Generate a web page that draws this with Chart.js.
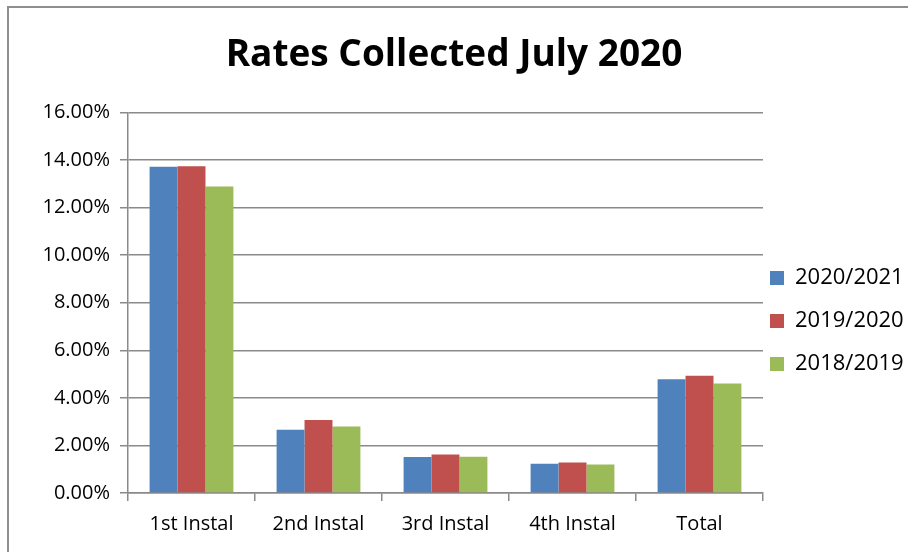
<!DOCTYPE html>
<html>
<head>
<meta charset="utf-8">
<title>Rates Collected July 2020</title>
<script src="https://cdn.jsdelivr.net/npm/chart.js@4"></script>
<style>
    html, body { margin: 0; padding: 0; background: #fff; }
    .wrap { position: relative; width: 908px; height: 552px; overflow: hidden; }
    .frame {
        position: absolute; left: 7px; top: 6px; width: 940px; height: 600px;
        border-left: 2px solid #8e8e8e; border-top: 2px solid #8e8e8e;
    }
    canvas { position: absolute; left: 0; top: 0; }
</style>
</head>
<body>
<div class="wrap">
    <div class="frame"></div>
    <canvas id="ratesChart" width="908" height="552"></canvas>
</div>
<script>
// Rates collected, percent of the year's total
const categories = ['1st Instal', '2nd Instal', '3rd Instal', '4th Instal', 'Total'];
const seriesNames = ['2020/2021', '2019/2020', '2018/2019'];
const rates2020 = [13.71, 2.66, 1.51, 1.23, 4.78];
const rates2019 = [13.74, 3.07, 1.62, 1.28, 4.93];
const rates2018 = [12.88, 2.80, 1.52, 1.20, 4.60];
const seriesColors = ['#4f81bd', '#c0504d', '#9bbb59'];
const yTicks = [0, 2, 4, 6, 8, 10, 12, 14, 16];

const gridColor = '#8a8a8a';
const font = 'Open Sans';

const datasets = [rates2020, rates2019, rates2018].map((values, i) => ({
    label: seriesNames[i],
    data: values,
    backgroundColor: seriesColors[i],
    borderWidth: 0,
    categoryPercentage: 0.66,
    barPercentage: 1.0
}));

new Chart(document.getElementById('ratesChart'), {
    type: 'bar',
    data: { labels: categories, datasets: datasets },
    options: {
        responsive: false,
        animation: false,
        layout: { padding: { left: 0, right: 0, top: 0, bottom: 0 } },
        plugins: {
            title: {
                display: true,
                text: 'Rates Collected July 2020',
                color: '#000',
                font: { family: font, size: 37, weight: 'bold' },
                padding: { top: 33, bottom: 35 }
            },
            legend: {
                position: 'right',
                maxWidth: 145,
                // empty title just pushes the entries down
                title: { display: true, text: '', font: { size: 1, lineHeight: 1 }, padding: { top: 0, bottom: 103 } },
                labels: {
                    color: '#000',
                    boxWidth: 14,
                    boxHeight: 14,
                    padding: 7,
                    font: { family: font, size: 22, lineHeight: 36 / 22 },
                    // single-line arrays so each entry takes the taller line height
                    generateLabels: chart =>
                        Chart.defaults.plugins.legend.labels.generateLabels(chart)
                            .map(item => ({ ...item, text: [item.text] }))
                }
            },
            tooltip: { enabled: false }
        },
        scales: {
            x: {
                offset: true,
                grid: {
                    offset: true,
                    drawOnChartArea: false,
                    color: gridColor,
                    lineWidth: 1.5,
                    tickLength: 8
                },
                border: { color: gridColor, width: 1.5 },
                ticks: { color: '#000', padding: 11, font: { family: font, size: 20 } },
                afterFit: scale => { scale.height = 59; }
            },
            y: {
                min: 0,
                max: 16,
                afterBuildTicks: scale => {
                    scale.ticks = yTicks.map(v => ({ value: v }));
                },
                grid: { color: gridColor, lineWidth: 1.5, tickLength: 8 },
                border: { color: gridColor, width: 1.5 },
                ticks: {
                    color: '#000',
                    padding: 10,
                    font: { family: font, size: 20 },
                    callback: v => v.toFixed(2) + '%'
                },
                afterFit: scale => { scale.width = 128; }
            }
        }
    }
});
</script>
</body>
</html>
